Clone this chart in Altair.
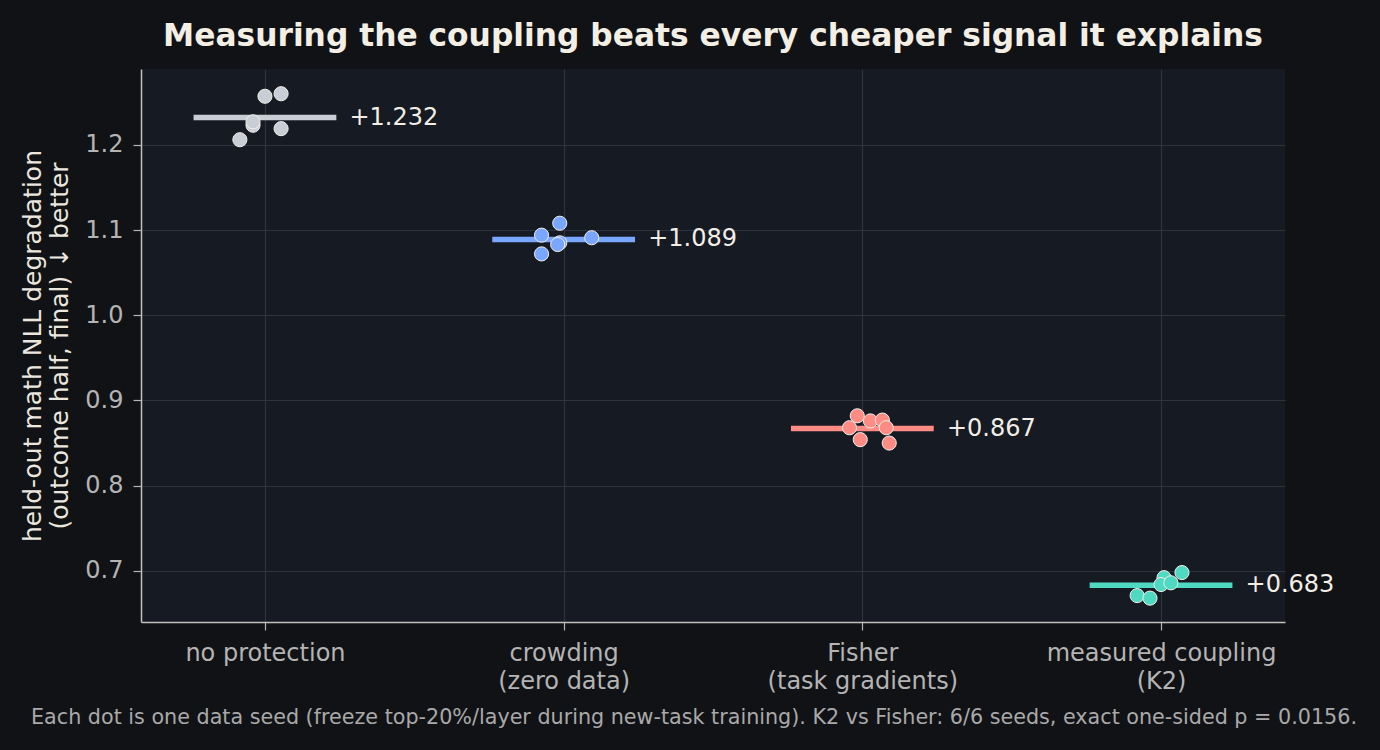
import json

import altair as alt
import pandas as pd

# Methods compared, in display order (newline = second label line)
methods = [
    "no protection",
    "crowding\n(zero data)",
    "Fisher\n(task gradients)",
    "measured coupling\n(K2)",
]
colors = ["#c9cdd6", "#79a7ff", "#ff8b85", "#4fd9c3"]

# Mean degradation per method (drawn as the bar and printed next to it)
means = [1.232, 1.089, 0.867, 0.683]

# Per-seed degradation values and their horizontal jitter (fraction of a slot)
seed_values = [
    [1.206, 1.223, 1.257, 1.260, 1.219, 1.227],
    [1.094, 1.108, 1.085, 1.091, 1.072, 1.083],
    [0.882, 0.876, 0.877, 0.868, 0.868, 0.854, 0.850],
    [0.692, 0.698, 0.684, 0.686, 0.671, 0.668],
]
seed_jitter = [
    [-0.084, -0.040, 0.000, 0.054, 0.054, -0.040],
    [-0.074, -0.013, -0.013, 0.094, -0.074, -0.020],
    [-0.017, 0.027, 0.067, -0.043, 0.080, -0.007, 0.090],
    [0.010, 0.070, 0.000, 0.033, -0.080, -0.037],
]

y_ticks = [0.7, 0.8, 0.9, 1.0, 1.1, 1.2]
title = "Measuring the coupling beats every cheaper signal it explains"
y_title = ["held-out math NLL degradation", "(outcome half, final)  \u2193 better"]
footnote = ("Each dot is one data seed (freeze top-20%/layer during new-task training). "
            "K2 vs Fisher: 6/6 seeds, exact one-sided p = 0.0156.")

FONT = "DejaVu Sans"
W, H = 1144, 553
PAD = {"left": 141, "top": 69, "right": 95, "bottom": 128}
HALF = 0.239   # half-length of the mean bar, in slot units
GAP = 0.283    # where the mean label starts, in slot units
FS = 24        # body text size

points = pd.DataFrame(
    [
        {"method": m, "x": i + j, "value": v}
        for i, m in enumerate(methods)
        for v, j in zip(seed_values[i], seed_jitter[i])
    ]
)
summary = pd.DataFrame(
    {
        "method": methods,
        "lo": [i - HALF for i in range(len(methods))],
        "hi": [i + HALF for i in range(len(methods))],
        "lx": [i + GAP for i in range(len(methods))],
        "mean": means,
        "label": [f"+{m:.3f}" for m in means],
    }
)

x_scale = alt.Scale(domain=[-0.415, 3.415], nice=False, zero=False)
y_scale = alt.Scale(domain=[0.64, 1.289], nice=False, zero=False)
color = alt.Color("method:N", scale=alt.Scale(domain=methods, range=colors), legend=None)

x_axis = alt.Axis(
    values=list(range(len(methods))),
    labelExpr=f"split({json.dumps(methods)}[datum.value], '\\n')",
    title=None,
    grid=True,
    labelFontSize=FS,
    labelLineHeight=28,
    labelPadding=11,
    labelLimit=0,
)
y_axis = alt.Axis(
    values=y_ticks,
    format=".1f",
    title=y_title,
    grid=True,
    labelFontSize=FS,
    labelPadding=10,
    titleFontSize=25,
    titleLineHeight=27,
    titlePadding=12,
    titleColor="#ebe7df",
    titleFontWeight="normal",
)

bars = alt.Chart(summary).mark_rule(strokeWidth=5.5).encode(
    x=alt.X("lo:Q", scale=x_scale, axis=x_axis),
    x2="hi:Q",
    y=alt.Y("mean:Q", scale=y_scale, axis=y_axis),
    color=color,
)

dots = alt.Chart(points).mark_circle(
    size=200, opacity=1, stroke="#f2efe8", strokeWidth=1
).encode(
    x=alt.X("x:Q", scale=x_scale),
    y=alt.Y("value:Q", scale=y_scale),
    color=color,
)

labels = alt.Chart(summary).mark_text(
    align="left", baseline="middle", fontSize=FS, font=FONT, color="#f2eee6"
).encode(
    x=alt.X("lx:Q", scale=x_scale),
    y=alt.Y("mean:Q", scale=y_scale),
    text="label:N",
)

note = alt.Chart(pd.DataFrame({"t": [footnote]})).mark_text(
    align="center", baseline="middle", fontSize=20.7, font=FONT, color="#a9a9a9"
).encode(
    x=alt.value(694 - PAD["left"]),
    y=alt.value(718 - PAD["top"]),
    text="t:N",
)

chart = (
    alt.layer(bars, dots, labels, note)
    .properties(
        width=W,
        height=H,
        padding=PAD,
        autosize=alt.AutoSizeParams(type="none"),
        background="#111216",
        title=alt.TitleParams(
            title,
            anchor="middle",
            frame="group",
            fontSize=31.3,
            font=FONT,
            fontWeight="bold",
            color="#f4efe5",
            offset=17,
        ),
    )
    .configure_view(fill="#161a23", stroke=None)
    .configure_axis(
        labelFont=FONT,
        titleFont=FONT,
        labelColor="#b4b4b4",
        gridColor="#2e3340",
        gridWidth=1.2,
        domainColor="#c4c1ba",
        domainWidth=1.5,
        tickColor="#b4b4b4",
        tickSize=8,
        tickWidth=1.2,
    )
)

chart.save("out.html", embed_options={"renderer": "svg", "actions": False})
